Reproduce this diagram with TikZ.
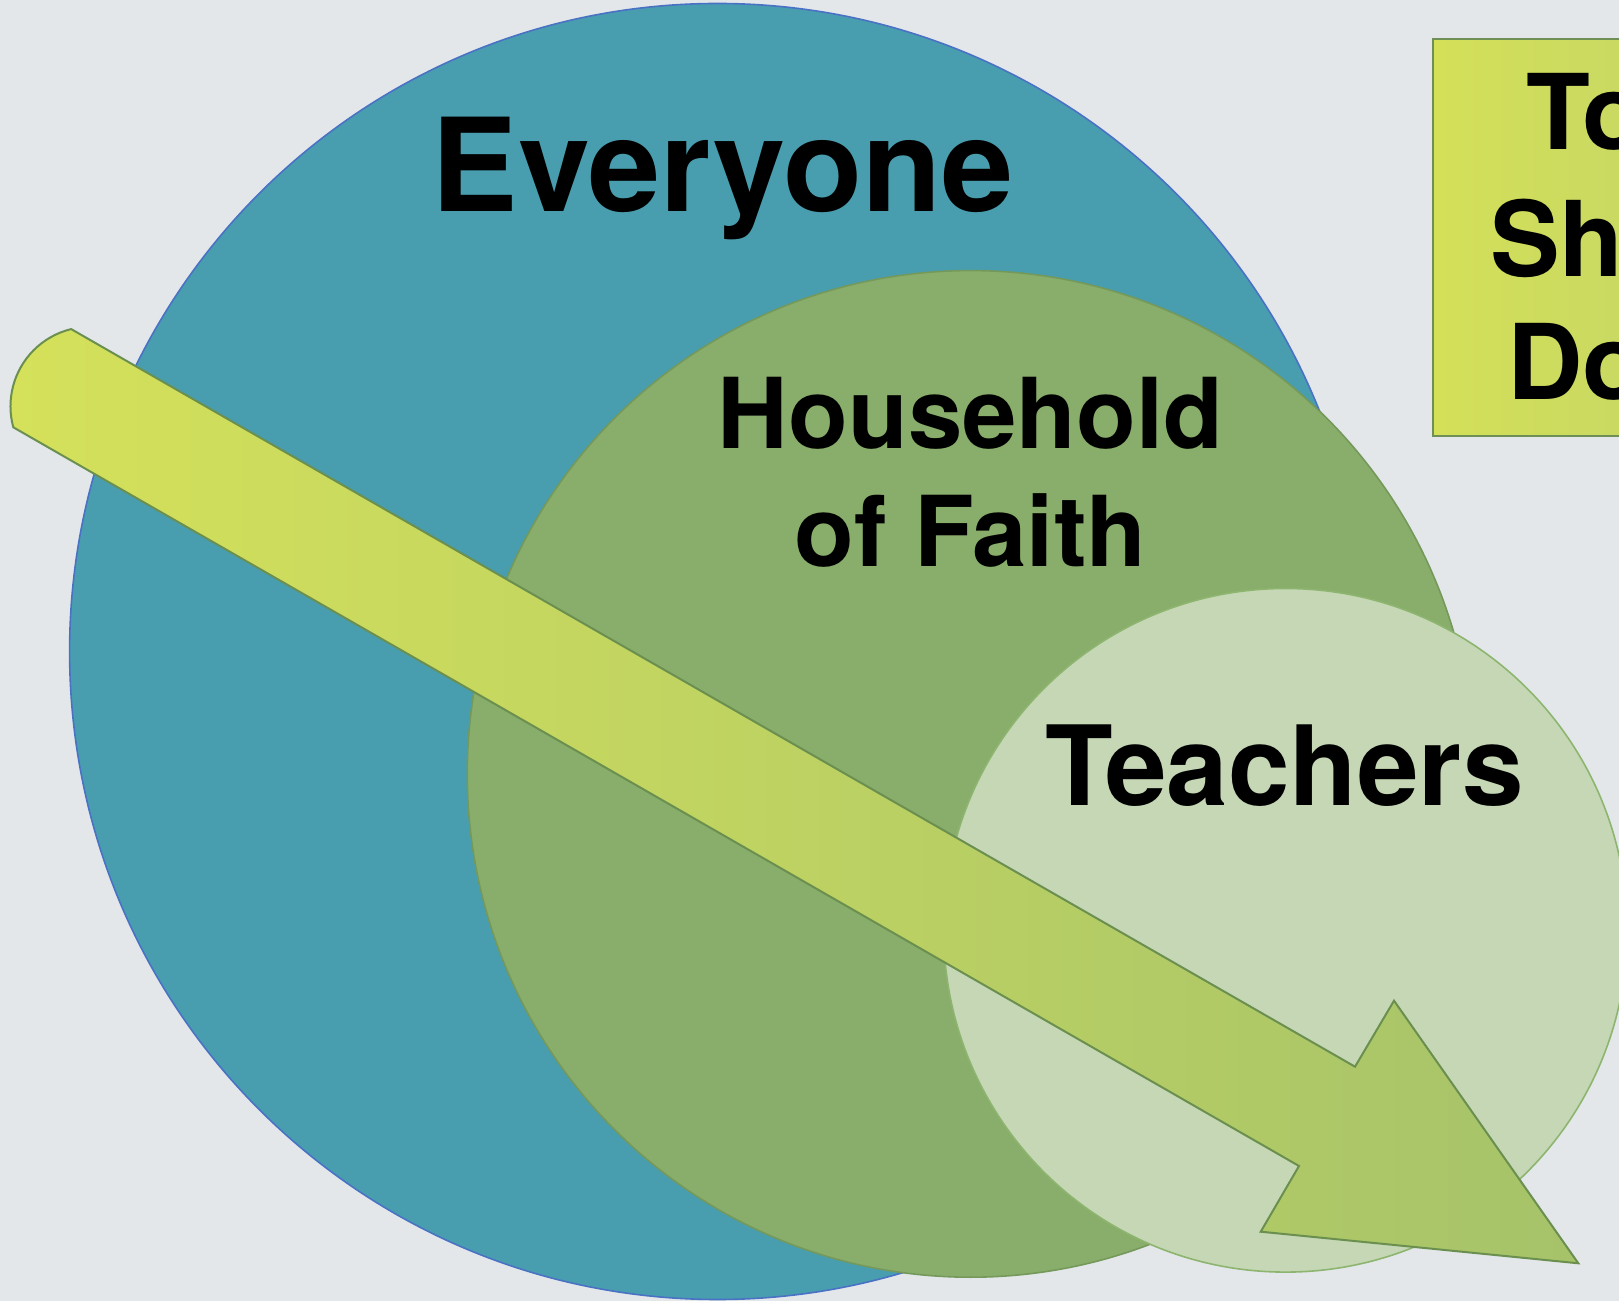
\documentclass[tikz,border=0pt]{standalone}
\usepackage{fontspec}
\setmainfont{TeX Gyre Heros}
\usetikzlibrary{positioning}
\definecolor{bgGrey}{HTML}{E3E7EA}
\definecolor{everyoneFill}{HTML}{489EAF}
\definecolor{everyoneEdge}{HTML}{4A72C4}
\definecolor{householdFill}{HTML}{89AE6B}
\definecolor{householdEdge}{HTML}{74995A}
\definecolor{teachersFill}{HTML}{C5D7B5}
\definecolor{teachersEdge}{HTML}{8DB56F}
\definecolor{arrowLeft}{HTML}{D5E15A}
\definecolor{arrowRight}{HTML}{A6C36A}
\definecolor{arrowEdge}{HTML}{6B8F4F}
\definecolor{boxLeft}{HTML}{D4E058}
\definecolor{boxRight}{HTML}{BFD26C}
\definecolor{boxEdge}{HTML}{6E8F55}

\begin{document}
\begin{tikzpicture}[
    x=1pt, y=1pt,
    ring/.style={line width=1.6pt},
    ringtext/.style={inner sep=0pt, text=black},
    bigarrow/.style={draw=arrowEdge, line width=2pt, line join=miter, left color=arrowLeft, right color=arrowRight},
    qbox/.style={rectangle, draw=boxEdge, line width=2pt, left color=boxLeft, right color=boxRight, inner sep=0pt}
]
\clip (0,0) rectangle (1619,1301);
\fill[bgGrey] (0,0) rectangle (1619,1301);

% the three circles
\draw[ring, draw=everyoneEdge, fill=everyoneFill] (717.6,649.5) circle[radius=648pt];
\draw[ring, draw=householdEdge, fill=householdFill] (970.6,527.1) circle[radius=503.3pt];
\draw[ring, draw=teachersEdge, fill=teachersFill] (1285.5,370.7) circle[radius=341.8pt];

\node[ringtext, font=\bfseries\fontsize{129.5}{150}\selectfont, anchor=base] (everyone) at (722.7,1089.3) {Everyone};
\node[ringtext, font=\bfseries\fontsize{97.8}{117.7}\selectfont, align=center, anchor=north] (household) at (970.6,924.1) {Household\\of Faith};
\node[ringtext, font=\bfseries\fontsize{110.7}{130}\selectfont, anchor=base] (teachers) at (1284.5,495.6) {Teachers};

% big arrow
\coordinate (notchUp) at (1355,234.3);
\coordinate (barbUp) at (1394,300.3);
\coordinate (tip) at (1578.3,37.7);
\coordinate (barbLow) at (1260.7,69.3);
\coordinate (notchLow) at (1299,135);
\coordinate (tailLow) at (13.3,873.7);
\path[bigarrow] (tailLow) arc[start angle=195.3, end angle=103.7, radius=79.5pt]
    -- (notchUp) -- (barbUp) -- (tip) -- (barbLow) -- (notchLow) -- cycle;

% box on the right
\node[qbox, anchor=north west, minimum width=380pt, minimum height=397.3pt] (question) at (1431.7,1263.3) {};
\node[ringtext, font=\bfseries\fontsize{104.5}{125}\selectfont, anchor=base west] (lineTo) at (1526,1151) {To};
\node[ringtext, font=\bfseries\fontsize{104.5}{125}\selectfont, anchor=base west] (lineSh) at (1490,1024.3) {Sh};
\node[ringtext, font=\bfseries\fontsize{104.5}{125}\selectfont, anchor=base west] (lineDo) at (1507,901) {Do};
\end{tikzpicture}
\end{document}
